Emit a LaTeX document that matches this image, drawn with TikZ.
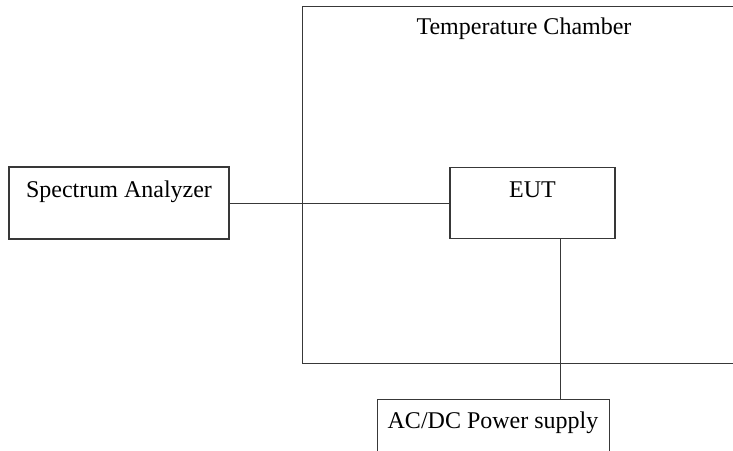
\documentclass[tikz,border=0pt]{standalone}
\usepackage{fontspec}
\setmainfont{Liberation Serif}
\begin{document}
\begin{tikzpicture}[x=1pt,y=-1pt,
  boxline/.style={draw=black!78, line width=1.1pt},
  wire/.style={draw=black!78, line width=1pt},
  lbl/.style={font=\fontsize{24}{28}\selectfont, inner sep=0pt, text=black}]
\useasboundingbox (0,0) rectangle (733,450);
\clip (0,0) rectangle (733,450);
% chamber
\node[boxline, rectangle, minimum width=460pt, minimum height=357pt, inner sep=0pt, anchor=north west] (chamber) at (302,6) {};
\node[lbl] (chambertext) at (524,29) {Temperature Chamber};
% spectrum analyzer
\node[boxline, rectangle, minimum width=220pt, minimum height=72pt, inner sep=0pt] (sa) at (119,203) {};
\node[lbl] (satext) at (119,192) {Spectrum Analyzer};
% EUT
\node[boxline, rectangle, minimum width=165pt, minimum height=71pt, inner sep=0pt] (eut) at (532.5,203) {};
\node[lbl] (euttext) at (532.5,190) {EUT};
% power supply
\node[boxline, rectangle, minimum width=232pt, minimum height=80pt, inner sep=0pt, anchor=north west] (ps) at (377,399) {};
\node[lbl] (pstext) at (493,423) {AC/DC Power supply};
% connectors
\draw[wire] (sa.east) -- (eut.west);
\coordinate (pin) at (560,238);
\draw[wire] (pin) -- (pin |- ps.north);
\end{tikzpicture}
\end{document}
